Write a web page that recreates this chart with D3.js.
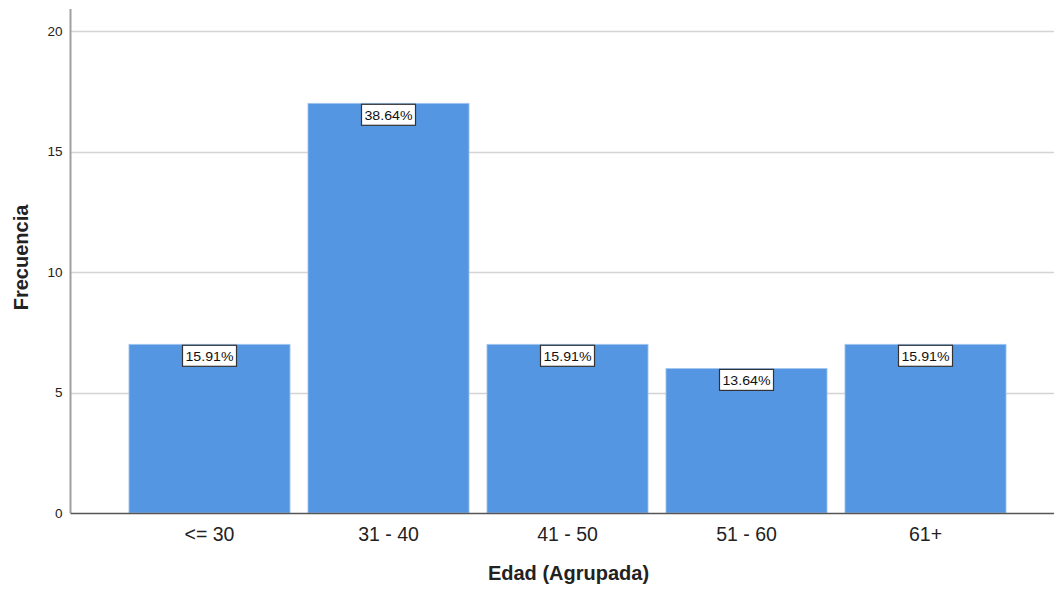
<!DOCTYPE html>
<html><head><meta charset="utf-8">
<script src="https://cdn.jsdelivr.net/npm/d3@7"></script>
<style>body{margin:0;background:#fff}svg{display:block;font-family:"Liberation Sans",Arial,sans-serif}</style>
</head><body>
<svg id="c" width="1054" height="590"></svg>
<script>
const categories = ["<= 30", "31 - 40", "41 - 50", "51 - 60", "61+"];
const frequencies = [7, 17, 7, 6, 7];
const percentLabels = ["15.91%", "38.64%", "15.91%", "13.64%", "15.91%"];
const yTicks = [0, 5, 10, 15, 20];

const svg = d3.select("#c");
const x = d3.scaleBand().domain(categories).range([120, 1015]).paddingInner(0.1).paddingOuter(0.05);
const y = d3.scaleLinear().domain([0, 20]).range([513, 31]);
const axisX = 70.5;

// gridlines
svg.append("g").selectAll("line").data(yTicks.filter(d => d > 0)).join("line")
  .attr("x1", axisX).attr("x2", 1054)
  .attr("y1", d => Math.round(y(d)) + 0.5).attr("y2", d => Math.round(y(d)) + 0.5)
  .attr("stroke", "#d4d4d4").attr("stroke-width", 1.5);

// bars
svg.append("g").selectAll("rect").data(categories).join("rect")
  .attr("x", d => x(d)).attr("width", x.bandwidth())
  .attr("y", (d, i) => y(frequencies[i])).attr("height", (d, i) => y(0) - y(frequencies[i]))
  .attr("fill", "#5596e3").attr("stroke", "#a9c9f0").attr("stroke-width", 0.8);

// y axis
const ya = svg.append("g").attr("transform", `translate(${axisX},0)`)
  .call(d3.axisLeft(y).tickValues(yTicks).tickSize(0).tickPadding(8));
ya.select(".domain").attr("stroke", "#a0a0a0").attr("stroke-width", 2).attr("d", "M0,9V513");
ya.selectAll("text").attr("font-size", 13.5).attr("fill", "#222").attr("font-family", "Liberation Sans, Arial, sans-serif");

// x axis
const xa = svg.append("g").attr("transform", `translate(0,513.5)`)
  .call(d3.axisBottom(x).tickSize(0).tickPadding(12));
xa.select(".domain").attr("stroke", "#555").attr("stroke-width", 1.5).attr("d", `M${axisX},0H1054`);
xa.selectAll("text").attr("font-size", 19.5).attr("fill", "#222").attr("dy", null).attr("y", 27.5)
  .attr("font-family", "Liberation Sans, Arial, sans-serif");

// percent labels
const lab = svg.append("g").selectAll("g").data(categories).join("g")
  .attr("transform", (d, i) => `translate(${x(d) + x.bandwidth() / 2},${y(frequencies[i])})`);
lab.append("rect").attr("x", -27).attr("y", 1).attr("width", 54).attr("height", 21)
  .attr("fill", "#fff").attr("stroke", "#333").attr("stroke-width", 1.2);
lab.append("text").attr("y", 16.5).attr("text-anchor", "middle").attr("font-size", 13).attr("fill", "#111")
  .attr("textLength", 48).attr("lengthAdjust", "spacingAndGlyphs")
  .text((d, i) => percentLabels[i]);

// titles
svg.append("text").attr("x", 568.5).attr("y", 580).attr("text-anchor", "middle")
  .attr("font-size", 20).attr("font-weight", "bold").attr("fill", "#222").text("Edad (Agrupada)");
svg.append("text").attr("transform", "translate(27.5,257.5) rotate(-90)").attr("text-anchor", "middle")
  .attr("font-size", 20).attr("font-weight", "bold").attr("fill", "#222").text("Frecuencia");
</script>
</body></html>
